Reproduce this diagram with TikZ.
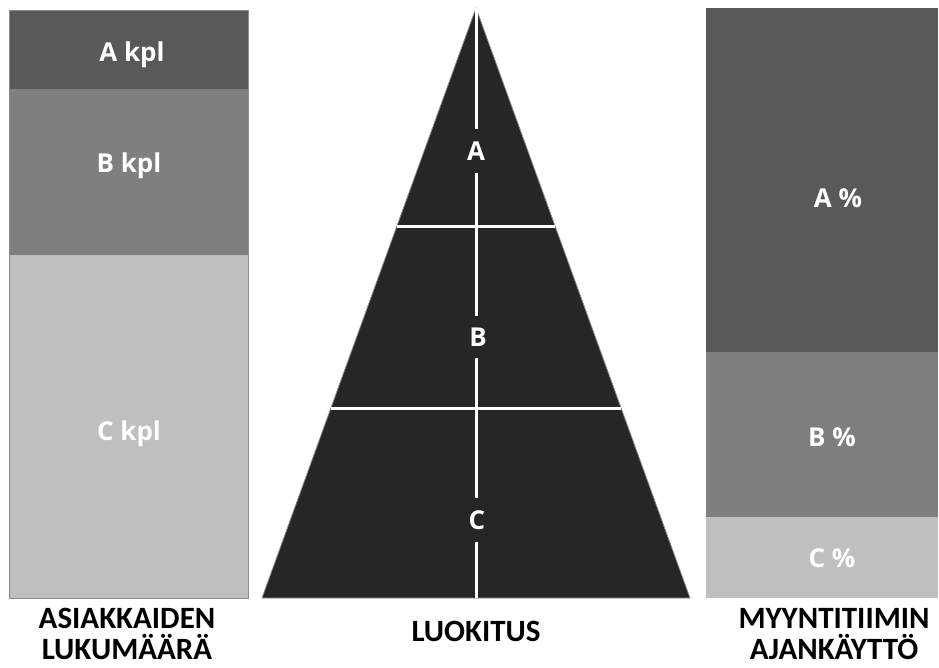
\documentclass[tikz,border=0pt]{standalone}
\usepackage{fontspec}
\newfontfamily\barfont{Open Sans}
\newfontfamily\capfont{Carlito}
\usetikzlibrary{calc}
\definecolor{bandA}{HTML}{595959}
\definecolor{bandB}{HTML}{7F7F7F}
\definecolor{bandC}{HTML}{BFBFBF}
\definecolor{tridark}{HTML}{262626}
\definecolor{edgegrey}{HTML}{8C8C8C}
\begin{document}
\begin{tikzpicture}[x=1pt, y=-1pt,
  edge/.style={draw=edgegrey, line width=0.8pt},
  inlbl/.style={text=white, font=\barfont\bfseries\fontsize{26}{28}\selectfont},
  trilbl/.style={inlbl, inner xsep=1pt, inner ysep=12pt},
  caption/.style={align=center, font=\capfont\bfseries\fontsize{31}{31}\selectfont},
  cut/.style={white, line width=3pt}]
  \useasboundingbox (0,0) rectangle (939,668);
  % asiakkaiden lukumaara
  \fill[bandA] (9,10) rectangle (248,89);
  \fill[bandB] (9,89) rectangle (248,255);
  \fill[bandC] (9,255) rectangle (248,598);
  \draw[edge] (9,10) rectangle (248,598);
  \node[inlbl] (kplA) at (132,55) {A kpl};
  \node[inlbl] (kplB) at (129,166) {B kpl};
  \node[inlbl] (kplC) at (129,434) {C kpl};
  % luokitus
  \coordinate (apex) at (476,8);
  \coordinate (bl) at (262,598);
  \coordinate (br) at (690,598);
  \coordinate (base) at (476,598);
  \filldraw[fill=tridark, edge] (apex) -- (br) -- (bl) -- cycle;
  \draw[cut] ($(apex)!0.3695!(bl)$) -- ($(apex)!0.3695!(br)$);
  \draw[cut] ($(apex)!0.678!(bl)$) -- ($(apex)!0.678!(br)$);
  \node[trilbl] (triA) at (476,151) {A};
  \node[trilbl] (triB) at (478,337) {B};
  \node[trilbl] (triC) at (477,520) {C};
  \draw[cut] (apex) -- (apex |- triA.north) (apex |- triA.south) -- (apex |- triB.north)
    (apex |- triB.south) -- (apex |- triC.north) (apex |- triC.south) -- (base);
  % myyntitiimin ajankaytto
  \fill[bandA] (706,8) rectangle (938,352);
  \fill[bandB] (706,352) rectangle (938,517);
  \fill[bandC] (706,517) rectangle (938,598);
  \node[inlbl] (pctA) at (838,198) {A \%};
  \node[inlbl] (pctB) at (832,437) {B \%};
  \node[inlbl] (pctC) at (832,558) {C \%};
  % otsikot
  \node[caption] (capL) at (127,634) {ASIAKKAIDEN\\LUKUMÄÄRÄ};
  \node[caption] (capM) at (476,631) {LUOKITUS};
  \node[caption] (capR) at (834,634) {MYYNTITIIMIN\\AJANKÄYTTÖ};
\end{tikzpicture}
\end{document}
